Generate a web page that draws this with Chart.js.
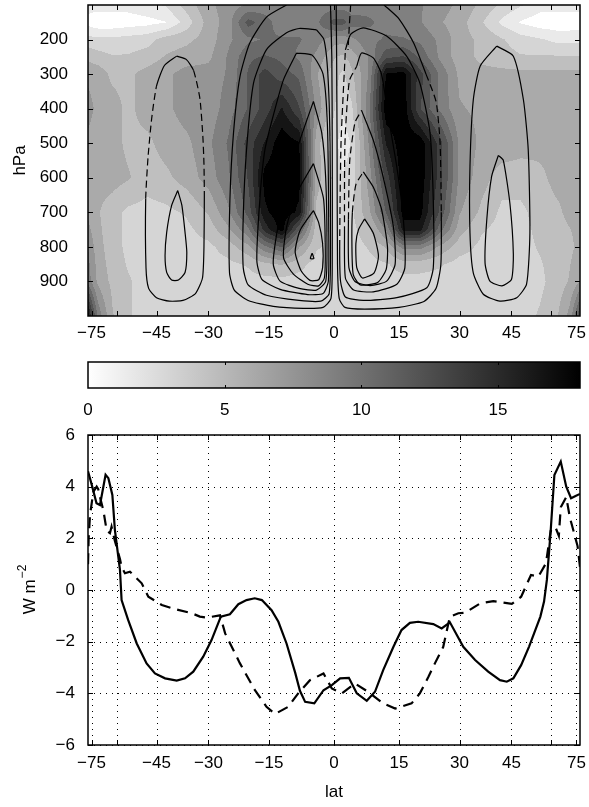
<!DOCTYPE html>
<html>
<head>
<meta charset="utf-8">
<script src="https://cdn.jsdelivr.net/npm/chart.js@4.4.1/dist/chart.umd.min.js"></script>
<style>
  html, body { margin: 0; padding: 0; background: #fff; }
  #wrap { position: relative; width: 589px; height: 807px; }
  canvas { position: absolute; left: 0; }
</style>
</head>
<body>
<div id="wrap">
  <canvas id="top" width="589" height="345" style="top:0"></canvas>
  <canvas id="bar" width="589" height="75" style="top:345px"></canvas>
  <canvas id="bottom" width="589" height="387" style="top:420px"></canvas>
</div>
<script>
const DEG = Math.PI / 180;
const sinLat = lat => Math.sin(lat * DEG);

// axis ticks
const latTicks = [-75, -60, -45, -30, -15, 0, 15, 30, 45, 60, 75];
const latTickLabels = ['\u221275', '', '\u221245', '\u221230', '\u221215', '0', '15', '30', '45', '', '75'];
const pressureTicks = [200, 300, 400, 500, 600, 700, 800, 900];
const fluxTicks = [-6, -4, -2, 0, 2, 4, 6];
const colorTicks = [0, 5, 10, 15];

// shaded field, one row per pressure level
const shadeLats = [-79, -70, -62, -55, -48, -42, -36, -30, -25, -20, -16, -12, -8, -4, 0, 2, 4, 8, 12, 16, 20, 25, 30, 36, 42, 48, 55, 62, 70, 79];
const shadePres = [100, 150, 200, 250, 300, 400, 500, 600, 700, 750, 800, 850, 900, 1000];
const shade100 = [2, 2, 2, 2, 2.5, 3, 5, 7, 8, 9, 9.5, 9.5, 9.5, 9.5, 9.5, 9.5, 9.5, 10, 10, 10, 9, 8, 7, 5.5, 4, 3, 2, 2, 2, 2];
const shade150 = [0.8, 0.3, 0.3, 0.5, 0.8, 1.3, 3.5, 6.5, 8, 12.5, 11, 9.5, 9.5, 10, 12.5, 12.5, 11, 10.5, 10, 9.5, 9, 7.5, 6.5, 4.5, 2.5, 1.2, 0.5, 0.3, 0.3, 0.5];
const shade200 = [3.5, 3.2, 3.2, 3.5, 3.8, 5, 5.5, 6.5, 8.5, 10, 10.5, 10.5, 10.5, 9.5, 8, 8, 8.5, 10, 10.5, 10.5, 10, 8.5, 6.5, 5.5, 4.5, 3.5, 3, 2.5, 2.5, 2.5];
const shade250 = [5.5, 5, 4.5, 4.5, 5, 6, 6.5, 7, 9, 11.5, 12, 11.5, 10, 8.5, 6, 5.5, 6.5, 9, 13, 13.5, 11.5, 8.5, 6.5, 5.5, 5, 4.5, 4.5, 4.5, 4.5, 4.5];
const shade300 = [7, 6.8, 5.5, 5.5, 6.5, 7, 8, 8, 9, 12, 14, 12.5, 11.5, 7.5, 5, 4, 5.5, 9, 18, 18.5, 14, 10, 7, 6.3, 6.3, 6.3, 6.3, 6.3, 6.3, 6.3];
const shade400 = [8, 7, 6.5, 5.5, 6.5, 7, 8, 8, 9.5, 12, 14, 16.5, 13.5, 8.5, 4.5, 3, 4, 10, 19, 19, 13.5, 10, 7.5, 7, 7, 7, 6.3, 6.3, 6.3, 6.3];
const shade500 = [7, 6.5, 6.5, 5.5, 5.5, 6.5, 7, 8.5, 10.5, 14, 16.5, 19, 18, 6.5, 3.5, 2, 3, 9, 16.5, 19, 19, 14, 8.5, 7, 7, 6.5, 6.3, 6.3, 6.3, 6.3];
const shade600 = [7, 6.5, 6.5, 6, 5, 5.5, 6.5, 8, 10, 13.5, 18.5, 19, 18.5, 6.5, 4, 3, 3.5, 8, 14, 19, 19, 14, 8.5, 6.5, 5, 5, 5.5, 6.3, 6.3, 6.3];
const shade700 = [7, 6, 5, 4, 3.8, 4, 4.5, 6, 8.5, 12.5, 17.5, 19, 17.5, 5.5, 4, 3.5, 4, 7, 12, 18.5, 18.5, 13, 7.5, 5.5, 4, 4, 5, 5.5, 6.3, 6.5];
const shade750 = [8, 6.2, 5, 4, 3.8, 3.8, 4, 5, 7, 10, 15.5, 18.5, 12, 5, 4, 3.5, 3.8, 5.5, 9, 17, 17, 11, 6.5, 4.5, 3.8, 3.8, 4.8, 5.3, 5.8, 6.5];
const shade800 = [9, 6.5, 5, 4, 3.8, 3.8, 3.8, 4, 5, 7, 10, 12, 7.5, 4.5, 4, 3.5, 3.5, 4.5, 6, 9.5, 9.5, 7, 5, 4, 3.8, 3.8, 4.5, 5, 5.5, 6.5];
const shade850 = [9.5, 6.8, 5.2, 4.2, 3.8, 3.8, 3.8, 3.8, 4, 4.5, 5.5, 6, 4.8, 3.8, 3.8, 3.5, 3.5, 3.8, 4.2, 5, 5, 4.5, 3.8, 3.8, 3.8, 3.8, 4.2, 5, 5.8, 7];
const shade900 = [10, 7, 5.5, 4.5, 3.8, 3.8, 3.8, 3.8, 3.8, 3.8, 3.8, 3.8, 3.8, 3.8, 3.8, 3.8, 3.8, 3.8, 3.8, 3.8, 3.8, 3.8, 3.8, 3.8, 3.8, 3.8, 4, 5, 6, 7.5];
const shade1000 = [18, 10, 6, 4.5, 3.8, 3.8, 3.8, 3.8, 3.8, 3.8, 3.8, 3.8, 3.8, 3.8, 3.8, 3.8, 3.8, 3.8, 3.8, 3.8, 3.8, 3.8, 3.8, 3.8, 3.8, 3.8, 4.5, 5.5, 8, 14];
const shadeRows = [shade100, shade150, shade200, shade250, shade300, shade400, shade500, shade600, shade700, shade750, shade800, shade850, shade900, shade1000];
const shadeStep = 1.5;
const shadeMax = 18;

// contour lines: [lat, hPa, dashed-from-here]
const southOuter = [[-38.8,248],[-36,258],[-34,290,1],[-32.3,370,1],[-31.5,480,1],[-31.2,560,1],[-31.1,650],[-31.2,800],[-31.6,890],[-33.5,935],[-37,955],[-41,957],[-45,947],[-47.6,920],[-48.5,860],[-48.6,660,1],[-47.8,540,1],[-46.6,430,1],[-45,335],[-42.5,275],[-38.8,248]];
const southInner = [[-38.5,637],[-37.3,680],[-36.4,758],[-35.9,816],[-36.4,874],[-38.3,896],[-40.3,896],[-41.8,874],[-42.3,826],[-41.8,758],[-40.3,680],[-38.5,637]];
const northOuter = [[40.4,219],[45.6,248],[49,375],[50.7,520],[51.3,760],[50.1,908],[46.7,947],[41.4,957],[36.5,937],[33.7,875],[32.8,760],[32.8,566],[33.7,375],[35.6,277],[40.4,219]];
const northInner = [[40.9,535],[42.4,549],[44.5,675],[45.6,821],[45,894],[42,913],[38.4,899],[37,847],[37.5,720],[38.9,596],[40.9,535]];
const leftCell1 = [[-10.9,100],[-15.6,135],[-19.6,210],[-22,307],[-23.6,470],[-24.5,665],[-24.6,875],[-23.4,925],[-20,955],[-14,972],[-7,978],[-2.5,975],[-0.7,950],[-0.4,850],[-0.4,500],[-0.5,250],[-0.8,100]];
const leftCell2 = [[-4,172],[-8,168],[-10.9,180],[-15.6,229],[-18.7,326],[-20.4,520],[-21.2,714],[-21.2,860],[-20,910],[-15.6,940],[-8,955],[-3,957],[-1.1,935],[-0.8,800],[-0.9,500],[-1.4,300],[-2.3,200],[-4,172]];
const leftCell3 = [[-8.6,239],[-11.6,316],[-14,420],[-16,520],[-17.2,666],[-17.9,840],[-16.7,894],[-12.4,923],[-6,938],[-2.5,935],[-1.3,900],[-1.2,750],[-1.5,450],[-2.5,300],[-5,245],[-8.6,239]];
const leftCell4 = [[-4.7,379],[-7.8,491],[-10.9,617],[-13.2,763],[-14,850],[-12.4,899],[-8,920],[-4,925],[-1.9,900],[-1.6,800],[-1.9,600],[-2.8,470],[-4.7,379]];
const leftCell5 = [[-4.7,559],[-8.6,646],[-10.9,743],[-11.6,831],[-9.3,879],[-6,908],[-3.5,913],[-2.2,890],[-2,800],[-2.4,660],[-4.7,559]];
const leftCell6 = [[-4.7,695],[-7.8,753],[-8.9,815],[-7.5,870],[-5.5,897],[-3.5,895],[-2.6,860],[-2.6,790],[-3.5,730],[-4.7,695]];
const leftCell7 = [[-5,818],[-5.4,834],[-4.6,834],[-5,818]];
const rightCell1 = [[11.5,100],[15,140],[18.5,210],[21.5,300,1],[24,380,1],[25,500,1],[25.3,700],[25.2,850],[24,920],[21,958],[15,975],[7,980],[2.5,975],[1.2,950],[0.8,850],[0.7,500],[0.6,250],[0.5,100]];
const rightCell2 = [[2.6,230],[3.8,185],[6.7,166],[12.1,190],[16.8,248],[20,326],[22.5,471],[23.3,666],[23.3,860],[21.7,918],[14.5,947],[6.7,955],[2.6,945],[1.5,900],[1.3,800,1],[1.6,500,1],[2.6,230]];
const rightCell3 = [[5.2,277],[6.3,239],[9,253],[10.9,300],[12.5,423],[14.5,569],[16,714],[16.4,860],[14.5,908],[9,930],[4.5,925],[2.6,890],[2.4,760,1],[2.5,500,1],[3.5,320,1],[5.2,277]];
const rightCell4 = [[6.3,405],[9,491],[11.3,598],[13.7,743],[14.1,850],[12.1,899],[8.3,912],[4.8,900],[3.4,860],[3.3,720,1],[3.6,550,1],[4.8,440,1],[6.3,405]];
const rightCell5 = [[6.7,583],[9,627],[10.9,690],[12.3,800],[12,865],[10,903],[6,910],[4.4,880],[4.1,800],[4.2,700,1],[5,620,1],[6.7,583]];
const rightCell6 = [[7,719],[9,760],[10.2,826],[9.2,875],[6.5,890],[5.2,860],[5,790],[5.6,750],[7,719]];
const rightCellTop = [[3.8,100,1],[3.5,160,1],[3.2,230]];
const contourLines = [southOuter, southInner, northOuter, northInner, leftCell1, leftCell2, leftCell3, leftCell4, leftCell5, leftCell6, leftCell7,
  rightCell1, rightCell2, rightCell3, rightCell4, rightCell5, rightCell6, rightCellTop];

// lower panel, W m^-2
const solidLat = [-78.5,-74.8,-71.1,-68.8,-65.5,-64,-62,-60.8,-58.5,-57.8,-55.1,-51.8,-48.3,-45.5,-42.3,-38.8,-36.4,-34.1,-31.4,-29.2,-26.8,-24.5,-22.4,-20.4,-18.4,-16.7,-14.4,-12.8,-10.9,-8.9,-7.8,-6.6,-4.5,-2.4,-0.5,1.4,3.4,5.2,7.5,9.4,11.3,13.7,15.6,17.6,19.6,23.3,25.4,27.5,31,34.2,37.9,41.4,43.5,45.6,48.2,51,55.3,56.8,58,59.7,61.4,64.6,67.7,70.8,74.2,78.5];
const solidVal = [4.6,4.07,3.36,3.29,4.46,4.33,3.68,2.33,0.78,-0.39,-1.16,-2.07,-2.84,-3.23,-3.42,-3.51,-3.42,-3.16,-2.58,-1.94,-1.03,-0.94,-0.55,-0.39,-0.32,-0.39,-0.78,-1.23,-2.07,-3.2,-3.9,-4.33,-4.39,-3.88,-3.68,-3.42,-3.4,-4,-4.29,-3.94,-3.1,-2.2,-1.55,-1.27,-1.23,-1.32,-1.49,-1.25,-2.2,-2.71,-3.16,-3.49,-3.55,-3.42,-2.91,-2.19,-1.03,-0.45,0.39,2.32,4.45,4.97,4,3.55,3.64,3.72];
const dashLat = [-78.5,-77.8,-76.4,-73.5,-71,-69.9,-68.8,-66.8,-64.9,-63.2,-62.4,-60.8,-58.5,-57.8,-56.4,-54.4,-50,-47.7,-43.3,-39.3,-34.5,-32.3,-30.5,-27,-25.7,-22,-18.4,-15.6,-13.6,-10.5,-8.2,-5.5,-2.4,-0.5,1.8,4.8,7.8,11.3,14.1,18,20,22.1,23.7,25.8,27.5,29.7,31.5,35.6,39.4,45.1,48.2,51.7,54.5,57.6,59.7,61.8,63.6,64.6,67.7,70,72.5,76,78.5];
const dashVal = [1,2,2.9,3.8,4,3.9,3.6,3.1,2.3,2.2,2.45,1.9,1.2,0.9,0.65,0.71,0.26,-0.26,-0.58,-0.74,-0.9,-1.03,-1.07,-0.98,-1.68,-2.84,-3.87,-4.52,-4.8,-4.52,-4,-3.49,-3.23,-3.81,-4,-3.62,-3.94,-4.39,-4.59,-4.39,-4,-3.36,-2.84,-2.2,-1.03,-0.9,-0.88,-0.52,-0.43,-0.54,-0.26,0.58,0.52,1.03,2.3,2.45,2.1,3.2,3.6,2.8,2.3,1.7,0.9];

Chart.defaults.color = '#000';
Chart.defaults.font.family = '"Liberation Sans", Arial, Helvetica, sans-serif';
Chart.defaults.font.size = 17;

function locate(arr, v) {
  if (v <= arr[0]) return [0, 0];
  for (let i = 0; i < arr.length - 1; i++) {
    if (v <= arr[i + 1]) return [i, (v - arr[i]) / (arr[i + 1] - arr[i])];
  }
  return [arr.length - 2, 1];
}

const shading = {
  id: 'shading',
  beforeDatasetsDraw(chart) {
    const {ctx, chartArea: a, scales: {x, y}} = chart;
    const w = Math.round(a.right - a.left), h = Math.round(a.bottom - a.top);
    const off = document.createElement('canvas');
    off.width = w; off.height = h;
    const octx = off.getContext('2d');
    const img = octx.createImageData(w, h);
    const cols = [], rows = [];
    for (let i = 0; i < w; i++) {
      const s = Math.max(-1, Math.min(1, x.getValueForPixel(a.left + i + 0.5)));
      cols.push(locate(shadeLats, Math.asin(s) / DEG));
    }
    for (let j = 0; j < h; j++) rows.push(locate(shadePres, y.getValueForPixel(a.top + j + 0.5)));
    const top = shadeMax / shadeStep;
    for (let j = 0; j < h; j++) {
      const [r, fr] = rows[j];
      const r0 = shadeRows[r], r1 = shadeRows[r + 1];
      for (let i = 0; i < w; i++) {
        const [c, fc] = cols[i];
        const v = (1 - fr) * ((1 - fc) * r0[c] + fc * r0[c + 1]) + fr * ((1 - fc) * r1[c] + fc * r1[c + 1]);
        const k = Math.max(0, Math.min(top, Math.floor(v / shadeStep + 0.1)));
        const g = Math.round(255 * (1 - k * shadeStep / shadeMax));
        const o = (j * w + i) * 4;
        img.data[o] = img.data[o + 1] = img.data[o + 2] = g;
        img.data[o + 3] = 255;
      }
    }
    octx.putImageData(img, 0, 0);
    ctx.drawImage(off, a.left, a.top);
  }
};

const frame = {
  id: 'frame',
  beforeDatasetsDraw(chart, args, o) {
    if (!o.dotted) return;
    const {ctx, chartArea: a, scales: {x, y}} = chart;
    ctx.save();
    ctx.strokeStyle = '#000';
    ctx.lineWidth = 1;
    ctx.setLineDash([1, 5]);
    ctx.beginPath();
    x.ticks.forEach(t => {
      const px = Math.round(x.getPixelForValue(t.value)) + 0.5;
      ctx.moveTo(px, a.top); ctx.lineTo(px, a.bottom);
    });
    y.ticks.forEach(t => {
      const py = Math.round(y.getPixelForValue(t.value)) + 0.5;
      ctx.moveTo(a.left, py); ctx.lineTo(a.right, py);
    });
    ctx.stroke();
    ctx.restore();
  },
  afterDatasetsDraw(chart, args, o) {
    const {ctx, chartArea: a, scales: {x, y}} = chart;
    const len = o.len || 5;
    ctx.save();
    ctx.strokeStyle = '#000';
    ctx.lineWidth = 1;
    ctx.setLineDash([]);
    ctx.beginPath();
    x.ticks.forEach(t => {
      const px = Math.round(x.getPixelForValue(t.value)) + 0.5;
      ctx.moveTo(px, a.bottom); ctx.lineTo(px, a.bottom - len);
      ctx.moveTo(px, a.top); ctx.lineTo(px, a.top + len);
    });
    y.ticks.forEach(t => {
      const py = Math.round(y.getPixelForValue(t.value)) + 0.5;
      ctx.moveTo(a.left, py); ctx.lineTo(a.left + len, py);
      ctx.moveTo(a.right, py); ctx.lineTo(a.right - len, py);
    });
    ctx.stroke();
    ctx.lineWidth = 1.5;
    ctx.strokeRect(a.left, a.top, a.right - a.left, a.bottom - a.top);
    ctx.restore();
  }
};

const colorbar = {
  id: 'colorbar',
  beforeDatasetsDraw(chart) {
    const {ctx, chartArea: a, scales: {x}} = chart;
    const x0 = x.getPixelForValue(0), x1 = x.getPixelForValue(shadeMax);
    const grad = ctx.createLinearGradient(x0, 0, x1, 0);
    grad.addColorStop(0, '#ffffff');
    grad.addColorStop(1, '#000000');
    ctx.save();
    ctx.fillStyle = grad;
    ctx.fillRect(x0, a.top, x1 - x0, a.bottom - a.top);
    ctx.strokeStyle = '#000';
    ctx.lineWidth = 1;
    ctx.beginPath();
    x.ticks.forEach(t => {
      if (t.value === 0) return;
      const px = Math.round(x.getPixelForValue(t.value)) + 0.5;
      ctx.moveTo(px, a.top); ctx.lineTo(px, a.top + 3);
      ctx.moveTo(px, a.bottom); ctx.lineTo(px, a.bottom - 3);
    });
    ctx.stroke();
    ctx.lineWidth = 1.5;
    ctx.strokeRect(x0, a.top, x1 - x0, a.bottom - a.top);
    ctx.restore();
  }
};

const unitTitle = {
  id: 'unitTitle',
  afterDraw(chart) {
    const {ctx, chartArea: a} = chart;
    ctx.save();
    ctx.translate(30, (a.top + a.bottom) / 2);
    ctx.rotate(-Math.PI / 2);
    ctx.fillStyle = '#000';
    ctx.textBaseline = 'middle';
    const big = '17px "Liberation Sans", Arial, sans-serif';
    const small = '12px "Liberation Sans", Arial, sans-serif';
    ctx.font = big;
    const w1 = ctx.measureText('W m').width;
    ctx.font = small;
    const w2 = ctx.measureText('\u22122').width;
    const x0 = -(w1 + w2) / 2;
    ctx.font = big;
    ctx.fillText('W m', x0, 0);
    ctx.font = small;
    ctx.fillText('\u22122', x0 + w1 + 1, -7);
    ctx.restore();
  }
};

// keep the plot boxes where they are, no room reserved for half labels
const noEdgeX = h => s => { s.height = h; s.paddingLeft = 0; s.paddingRight = 0; };
const noEdgeY = w => s => { s.width = w; s.paddingTop = 0; s.paddingBottom = 0; };

const latAxis = (pad, h) => ({
  type: 'linear',
  min: -0.98,
  max: 0.98,
  grid: { display: false, drawTicks: false },
  border: { display: false },
  afterBuildTicks: s => { s.ticks = latTicks.map(l => ({ value: sinLat(l) })); },
  afterFit: noEdgeX(h),
  ticks: { autoSkip: false, maxRotation: 0, minRotation: 0, padding: pad, callback: (v, i) => latTickLabels[i] }
});

// top: shaded field with contour lines
new Chart(document.getElementById('top'), {
  type: 'scatter',
  data: {
    datasets: contourLines.map(line => ({
      data: line.map(([lat, p, d]) => ({ x: sinLat(lat), y: p, d: d || 0 })),
      showLine: true,
      pointRadius: 0,
      borderColor: '#000',
      borderWidth: 1.2,
      tension: 0.2,
      segment: {
        borderDash: c => (c.chart.data.datasets[c.datasetIndex].data[c.p0DataIndex].d ? [7, 4] : [])
      }
    }))
  },
  options: {
    responsive: false,
    animation: false,
    events: [],
    layout: { padding: { top: 5, right: 9, left: 0, bottom: 0 } },
    plugins: { legend: { display: false }, tooltip: { enabled: false }, frame: { len: 5 } },
    scales: {
      x: latAxis(7, 29),
      y: {
        type: 'linear',
        reverse: true,
        min: 100,
        max: 1000,
        grid: { display: false, drawTicks: false },
        border: { display: false },
        afterBuildTicks: s => { s.ticks = pressureTicks.map(v => ({ value: v })); },
        afterFit: noEdgeY(88),
        ticks: { padding: 20 },
        title: { display: true, text: 'hPa', padding: { top: 10 } }
      }
    }
  },
  plugins: [shading, frame]
});

// colour bar
new Chart(document.getElementById('bar'), {
  type: 'scatter',
  data: { datasets: [] },
  options: {
    responsive: false,
    animation: false,
    events: [],
    layout: { padding: { top: 17, right: 9, left: 88, bottom: 0 } },
    plugins: { legend: { display: false }, tooltip: { enabled: false } },
    scales: {
      x: {
        type: 'linear',
        min: 0,
        max: shadeMax,
        grid: { display: false, drawTicks: false },
        border: { display: false },
        afterBuildTicks: s => { s.ticks = colorTicks.map(v => ({ value: v })); },
        afterFit: noEdgeX(32),
        ticks: { padding: 12, maxRotation: 0 }
      },
      y: { display: false, min: 0, max: 1 }
    }
  },
  plugins: [colorbar]
});

// bottom: line profiles
new Chart(document.getElementById('bottom'), {
  type: 'scatter',
  data: {
    datasets: [
      {
        data: solidLat.map((l, i) => ({ x: sinLat(l), y: solidVal[i] })),
        showLine: true, pointRadius: 0, borderColor: '#000', borderWidth: 2.2, tension: 0
      },
      {
        data: dashLat.map((l, i) => ({ x: sinLat(l), y: dashVal[i] })),
        showLine: true, pointRadius: 0, borderColor: '#000', borderWidth: 2.2, borderDash: [11, 7], tension: 0
      }
    ]
  },
  options: {
    responsive: false,
    animation: false,
    events: [],
    layout: { padding: { top: 15, right: 9, left: 0, bottom: 0 } },
    plugins: { legend: { display: false }, tooltip: { enabled: false }, frame: { dotted: true, len: 5 } },
    scales: {
      x: Object.assign(latAxis(8, 62), {
        title: { display: true, text: 'lat', padding: { bottom: 4 } }
      }),
      y: {
        type: 'linear',
        min: -6,
        max: 6,
        grid: { display: false, drawTicks: false },
        border: { display: false },
        afterBuildTicks: s => { s.ticks = fluxTicks.map(v => ({ value: v })); },
        afterFit: noEdgeY(88),
        ticks: { padding: 13, callback: v => String(v).replace('-', '\u2212') }
      }
    }
  },
  plugins: [frame, unitTitle]
});
</script>
</body>
</html>
